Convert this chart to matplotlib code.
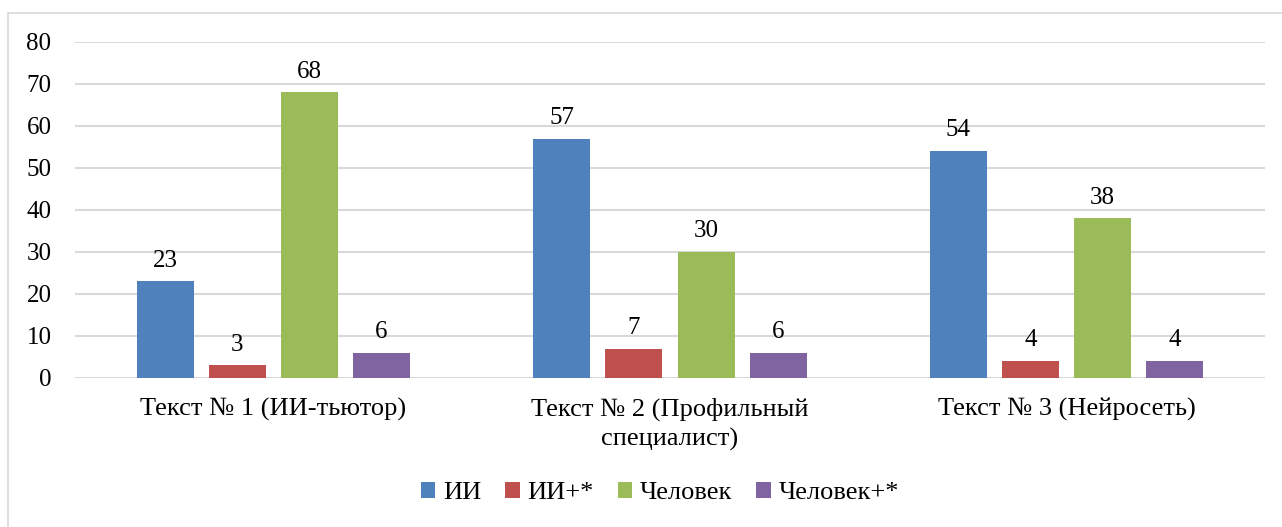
import matplotlib
matplotlib.use("Agg")
import matplotlib.pyplot as plt
from matplotlib.patches import Rectangle
import numpy as np

plt.rcParams['font.family'] = ['Liberation Serif', 'DejaVu Serif']

categories = ["Текст № 1 (ИИ-тьютор)", "Текст № 2 (Профильный\nспециалист)", "Текст № 3 (Нейросеть)"]
series_names = ["ИИ", "ИИ+*", "Человек", "Человек+*"]
ii = [23, 57, 54]
ii_plus = [3, 7, 4]
human = [68, 30, 38]
human_plus = [6, 6, 4]
series_values = [ii, ii_plus, human, human_plus]
colors = ["#4F81BD", "#C0504D", "#9BBB59", "#8064A2"]
yticks = [0, 10, 20, 30, 40, 50, 60, 70, 80]

W, H = 1282, 527
fig = plt.figure(figsize=(W / 100, H / 100), dpi=100)
fig.patches.append(Rectangle((8 / W, -0.1), 1.2, 1 - 13 / H + 0.1, transform=fig.transFigure,
                             fill=False, edgecolor="#d9d9d9", linewidth=1.2))
ax = fig.add_axes([75 / W, 149 / H, (1265 - 75) / W, (378 - 42) / H])

x = np.arange(len(categories))
step = 72 / 396
width = 57 / 396
for i, (name, vals, c) in enumerate(zip(series_names, series_values, colors)):
    pos = x + (i - 1.5) * step
    bars = ax.bar(pos, vals, width=width, color=c, label=name, zorder=3)
    for b, v in zip(bars, vals):
        ax.annotate(str(v), (b.get_x() + b.get_width() / 2, v), xytext=(0, 7),
                    textcoords="offset points", ha="center", va="bottom", fontsize=18)

ax.set_xlim(-0.5, 2.5)
ax.set_ylim(0, 80)
ax.set_yticks(yticks)
ax.set_yticklabels([str(t) for t in yticks], fontsize=18)
ax.set_xticks(x)
ax.set_xticklabels(categories, fontsize=19, va="top", linespacing=1.4)
ax.tick_params(axis="both", length=0)
ax.tick_params(axis="y", pad=17)
ax.tick_params(axis="x", pad=14)
ax.yaxis.grid(True, color="#d9d9d9", linewidth=1.5, zorder=0)
for s in ax.spines.values():
    s.set_visible(False)

leg = ax.legend(loc="center", bbox_to_anchor=(0.5 + (660 - 670) / 1190, (378 - 493) / 336),
                ncol=4, frameon=False, fontsize=19, handlelength=0.55, handleheight=0.55,
                handletextpad=0.3, columnspacing=0.9)

fig.savefig("out.png", dpi=100)
